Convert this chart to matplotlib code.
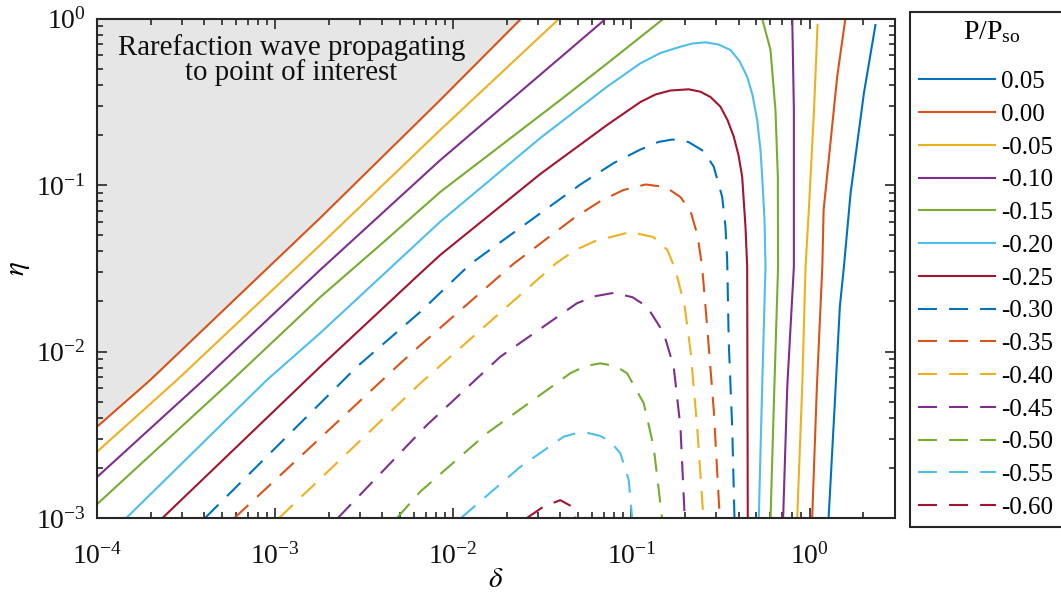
import matplotlib
matplotlib.use("Agg")
import matplotlib.pyplot as plt

plt.rcParams['font.family'] = ['Liberation Serif', 'DejaVu Serif']
plt.rcParams['mathtext.fontset'] = 'stix'
plt.rcParams['axes.unicode_minus'] = False

# Pressure-ratio levels shown in the legend
levels = [0.05, 0.00, -0.05, -0.10, -0.15, -0.20, -0.25,
          -0.30, -0.35, -0.40, -0.45, -0.50, -0.55, -0.60]
level_labels = ['0.05', '0.00', '-0.05', '-0.10', '-0.15', '-0.20', '-0.25',
                '-0.30', '-0.35', '-0.40', '-0.45', '-0.50', '-0.55', '-0.60']
palette = ['#0072BD', '#D95319', '#EDB120', '#7E2F8E', '#77AC30', '#4DBEEE', '#A2142F']

# Contour branches: delta (d_*) and eta (e_*) along each iso-pressure line
d_p05 = [1.28, 1.38, 1.48, 1.56, 1.70, 2.02, 2.35]
e_p05 = [1.0e-3, 4.45e-3, 1.86e-2, 3.23e-2, 8.91e-2, 0.356, 0.927]

d_000_diag = [1.0e-4, 1.99e-4, 1.79e-3, 8.45e-3, 2.41e-2]
e_000_diag = [3.53e-3, 6.74e-3, 6.34e-2, 0.324, 1.0]
d_000_right = [1.035, 1.10, 1.18, 1.20, 1.31, 1.43, 1.59]
e_000_right = [1.0e-3, 6.15e-3, 3.23e-2, 7.08e-2, 0.178, 0.447, 1.0]

d_m05_diag = [1.0e-4, 2.81e-4, 1.79e-3, 8.45e-3, 3.94e-2]
e_m05_diag = [2.50e-3, 6.74e-3, 4.36e-2, 0.214, 1.0]
d_m05_right = [0.853, 0.910, 0.950, 0.991, 1.06, 1.11]
e_m05_right = [1.0e-3, 6.15e-3, 3.23e-2, 7.08e-2, 0.282, 0.93]

d_m10_diag = [1.0e-4, 3.96e-4, 1.79e-3, 8.45e-3, 7.21e-2]
e_m10_diag = [1.76e-3, 6.74e-3, 3.09e-2, 0.141, 1.0]
d_m10_right = [0.711, 0.750, 0.817, 0.817, 0.817, 0.800]
e_m10_right = [1.0e-3, 6.15e-3, 3.23e-2, 7.08e-2, 0.282, 1.0]

d_m15_diag = [1.0e-4, 5.59e-4, 1.79e-3, 3.89e-3, 8.45e-3, 1.837e-2, 3.99e-2, 7.62e-2, 0.152]
e_m15_diag = [1.21e-3, 6.56e-3, 2.12e-2, 4.36e-2, 9.08e-2, 0.1715, 0.324, 0.556, 1.0]
d_m15_right = [0.604, 0.635, 0.666, 0.664, 0.644, 0.604, 0.542]
e_m15_right = [1.0e-3, 6.15e-3, 3.23e-2, 0.112, 0.282, 0.647, 1.0]

d_m20 = [1.46e-4, 8.98e-4, 1.79e-3, 8.45e-3, 3.08e-2, 7.30e-2, 0.1124, 0.1455,
         0.1885, 0.2202, 0.2605, 0.3083, 0.3600, 0.4043, 0.4467, 0.4786,
         0.5083, 0.5305, 0.5423, 0.5589, 0.5661, 0.5423, 0.5190]
e_m20 = [1.0e-3, 6.74e-3, 1.29e-2, 6.02e-2, 0.1915, 0.3894, 0.5382, 0.6206,
         0.6770, 0.7075, 0.7195, 0.6978, 0.6468, 0.5556, 0.4470, 0.3471,
         0.2457, 0.1622, 0.1122, 0.0616, 0.0323, 6.14e-3, 1.0e-3]

d_m25 = [2.33e-4, 1.79e-3, 6.53e-3, 8.45e-3, 3.08e-2, 7.30e-2, 0.1124, 0.1364,
         0.1656, 0.2099, 0.2441, 0.2779, 0.3162, 0.3463, 0.3756, 0.3991,
         0.4187, 0.4370, 0.4467, 0.4502]
e_m25 = [1.0e-3, 8.10e-3, 2.95e-2, 3.80e-2, 0.1164, 0.2293, 0.3151, 0.3496,
         0.3694, 0.3756, 0.3634, 0.3377, 0.2953, 0.2457, 0.1950, 0.1514,
         0.1122, 0.0562, 0.0323, 1.0e-3]

d_m30 = [4.04e-4, 2.88e-3, 6.53e-3, 1.246e-2, 3.08e-2, 5.17e-2, 7.96e-2, 0.1124,
         0.1418, 0.1699, 0.2090, 0.2538, 0.2900, 0.3233, 0.3374, 0.3449,
         0.3522, 0.3680, 0.3791]
e_m30 = [1.0e-3, 8.10e-3, 1.73e-2, 3.35e-2, 6.76e-2, 0.1007, 0.1355, 0.1633,
         0.1813, 0.1876, 0.1813, 0.1600, 0.1288, 0.0850, 0.0562, 0.0354,
         0.0112, 3.53e-3, 1.0e-3]

d_m35 = [5.91e-4, 5.04e-3, 6.53e-3, 2.17e-2, 4.74e-2, 6.70e-2, 9.02e-2, 0.1199,
         0.1552, 0.1885, 0.2146, 0.2348, 0.2495, 0.2663, 0.2900, 0.3135]
e_m35 = [1.0e-3, 8.49e-3, 1.09e-2, 3.35e-2, 6.31e-2, 8.01e-2, 9.33e-2, 0.1007,
         0.0973, 0.0847, 0.0698, 0.0501, 0.0323, 0.0141, 4.45e-3, 1.0e-3]

d_m40 = [1.053e-3, 6.53e-3, 3.79e-2, 4.85e-2, 6.28e-2, 9.87e-2, 0.1329, 0.1593,
         0.1767, 0.1986, 0.2146, 0.2340, 0.2538]
e_m40 = [1.0e-3, 6.44e-3, 3.40e-2, 4.07e-2, 4.61e-2, 5.22e-2, 4.87e-2, 4.07e-2,
         3.09e-2, 1.90e-2, 1.02e-2, 3.53e-3, 1.0e-3]

d_m45 = [2.25e-3, 7.12e-3, 1.837e-2, 4.95e-2, 6.28e-2, 7.96e-2, 0.1013, 0.1225,
         0.1519, 0.1728, 0.1885, 0.1993]
e_m45 = [1.0e-3, 3.62e-3, 9.30e-3, 1.95e-2, 2.15e-2, 2.25e-2, 2.12e-2, 1.86e-2,
         1.29e-2, 8.10e-3, 3.53e-3, 1.0e-3]

d_m50 = [4.83e-3, 6.53e-3, 1.546e-2, 4.54e-2, 5.51e-2, 6.70e-2, 8.13e-2, 9.46e-2,
         0.1173, 0.1333, 0.1487]
e_m50 = [1.0e-3, 1.44e-3, 3.23e-3, 7.40e-3, 8.18e-3, 8.49e-3, 8.18e-3, 7.40e-3,
         4.89e-3, 2.68e-3, 1.0e-3]

d_m55 = [1.105e-2, 2.38e-2, 4.17e-2, 4.85e-2, 5.64e-2, 6.70e-2, 7.62e-2, 8.67e-2,
         9.66e-2, 0.1009]
e_m55 = [1.0e-3, 2.03e-3, 3.08e-3, 3.22e-3, 3.25e-3, 3.11e-3, 2.87e-3, 2.45e-3,
         1.69e-3, 1.0e-3]

d_m60 = [2.59e-2, 3.21e-2, 3.99e-2, 4.65e-2, 4.84e-2]
e_m60 = [1.0e-3, 1.17e-3, 1.28e-3, 1.17e-3, 1.0e-3]

# (level index, delta, eta) for every drawn branch
branches = [
    (0, d_p05, e_p05),
    (1, d_000_diag, e_000_diag), (1, d_000_right, e_000_right),
    (2, d_m05_diag, e_m05_diag), (2, d_m05_right, e_m05_right),
    (3, d_m10_diag, e_m10_diag), (3, d_m10_right, e_m10_right),
    (4, d_m15_diag, e_m15_diag), (4, d_m15_right, e_m15_right),
    (5, d_m20, e_m20),
    (6, d_m25, e_m25),
    (7, d_m30, e_m30),
    (8, d_m35, e_m35),
    (9, d_m40, e_m40),
    (10, d_m45, e_m45),
    (11, d_m50, e_m50),
    (12, d_m55, e_m55),
    (13, d_m60, e_m60),
]

W, H = 1061, 606
fig = plt.figure(figsize=(W / 100, H / 100), dpi=100)
ax = fig.add_axes([97 / W, (H - 518) / H, (894.5 - 97) / W, (518 - 18.5) / H])
ax.set_xscale('log')
ax.set_yscale('log')
ax.set_xlim(1e-4, 3)
ax.set_ylim(1e-3, 1)

# Region not yet reached by the rarefaction wave
ax.fill_between(d_000_diag, e_000_diag, 1.0, color='#E6E6E6', lw=0, zorder=1)
ax.text(0.2439, 0.969, 'Rarefaction wave propagating\nto point of interest',
        transform=ax.transAxes, ha='center', va='top', fontsize=20.8,
        linespacing=0.93, multialignment='center', color='#111111', zorder=3)

dash = (0, (9.1, 5.8))
handles = {}
for idx, d, e in branches:
    style = '-' if idx < 7 else dash
    ln, = ax.plot(d, e, color=palette[idx % 7], lw=1.5, linestyle=style,
                  zorder=2, solid_capstyle='butt', dash_capstyle='butt',
                  solid_joinstyle='round')
    handles.setdefault(idx, ln)

axis_col = '#262626'
for sp in ax.spines.values():
    sp.set_linewidth(1.5)
    sp.set_color(axis_col)
ax.tick_params(which='both', direction='in', top=True, right=True,
               width=1.2, color=axis_col, labelsize=20, labelcolor='#111111')
ax.tick_params(which='major', length=7)
ax.tick_params(which='minor', length=4.3)
ax.tick_params(axis='x', which='both', pad=18)
ax.tick_params(axis='y', which='both', pad=8)

ax.set_xlabel(r'$\delta$', fontsize=21, labelpad=-2)
ax.set_ylabel(r'$\eta$', fontsize=21, labelpad=3)

# Legend box runs on past the right edge of the figure
leg = fig.legend([handles[i] for i in range(len(levels))], level_labels,
                 loc='upper left', bbox_to_anchor=(910 / W, 0, 0.155, 1 - 12 / H),
                 bbox_transform=fig.transFigure, mode='expand',
                 frameon=True, fancybox=False,
                 edgecolor=axis_col, framealpha=1, fontsize=18,
                 title='P/P$_\\mathregular{so}$', title_fontsize=20,
                 handlelength=3.1, handletextpad=0.24, labelspacing=0.41,
                 borderpad=0.32, borderaxespad=0)
leg.get_frame().set_linewidth(1.5)
# extra room between the title and the first entry
leg._legend_box.sep = 18.0

fig.savefig('out.png', dpi=100)
